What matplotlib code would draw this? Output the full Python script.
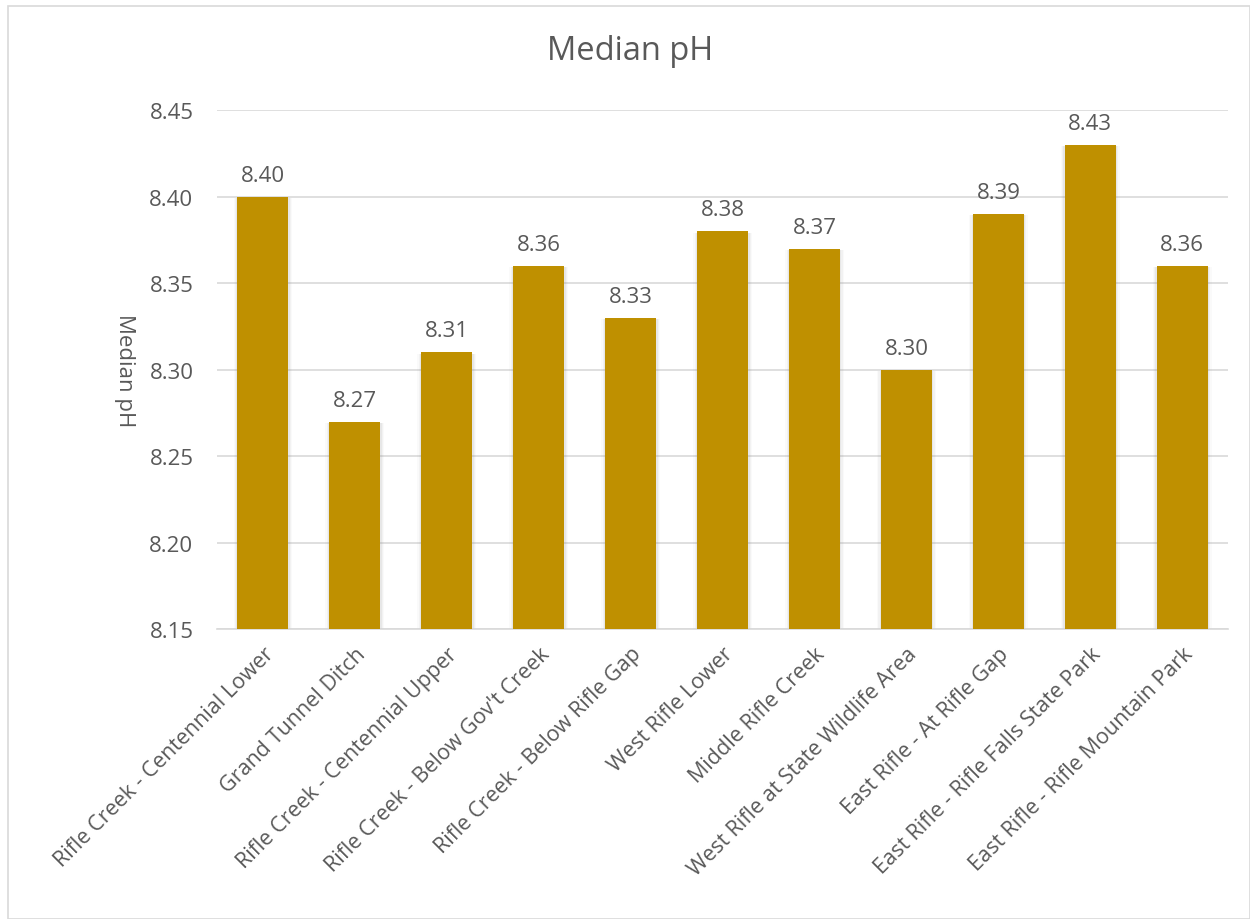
import matplotlib.pyplot as plt
from matplotlib.patches import Rectangle

plt.rcParams['font.family'] = ['Open Sans', 'DejaVu Sans']

# data
sites = [
    "Rifle Creek - Centennial Lower",
    "Grand Tunnel Ditch",
    "Rifle Creek - Centennial Upper",
    "Rifle Creek - Below Gov't Creek",
    "Rifle Creek - Below Rifle Gap",
    "West Rifle Lower",
    "Middle Rifle Creek",
    "West Rifle at State Wildlife Area",
    "East Rifle - At Rifle Gap",
    "East Rifle - Rifle Falls State Park",
    "East Rifle - Rifle Mountain Park",
]
median_ph = [8.40, 8.27, 8.31, 8.36, 8.33, 8.38, 8.37, 8.30, 8.39, 8.43, 8.36]
y_ticks = [8.15, 8.20, 8.25, 8.30, 8.35, 8.40, 8.45]

text_col = "#595959"
bar_col = "#BF9000"

fig = plt.figure(figsize=(12.5, 9.2), dpi=100)
ax = fig.add_axes([0.1736, 0.315, 0.809, 0.564])

x = list(range(len(sites)))
base = y_ticks[0]
heights = [v - base for v in median_ph]

# soft shadow around the bars
for w, a in [(0.64, 0.04), (0.61, 0.06), (0.585, 0.09)]:
    ax.bar(x, heights, bottom=base - 0.0008, width=w, color="gray", alpha=a,
           zorder=2, linewidth=0)
ax.bar(x, heights, bottom=base, width=0.555, color=bar_col, zorder=3, linewidth=0)

for i, v in enumerate(median_ph):
    ax.annotate(f"{v:.2f}", (i, v), xytext=(0, 8), textcoords="offset points",
                ha="center", va="bottom", fontsize=16, color=text_col)

ax.set_ylim(y_ticks[0], y_ticks[-1])
ax.set_xlim(-0.5, len(sites) - 0.5)
ax.set_yticks(y_ticks)
ax.set_yticklabels([f"{t:.2f}" for t in y_ticks], fontsize=16, color=text_col)
ax.set_xticks(x)
ax.set_xticklabels(sites, rotation=45, ha="right", rotation_mode="anchor",
                   fontsize=15.5, color=text_col)
ax.tick_params(axis="y", length=0, pad=17)
ax.tick_params(axis="x", length=0, pad=10)
ax.grid(axis="y", color="#D9D9D9", linewidth=1.2, zorder=0)
for s in ["top", "right", "left"]:
    ax.spines[s].set_visible(False)
ax.spines["bottom"].set_color("#D9D9D9")
ax.spines["bottom"].set_linewidth(1.2)

ax.set_ylabel("Median pH", rotation=270, fontsize=16, color=text_col, va="center")
ax.yaxis.set_label_coords(-0.091, 0.5)
fig.text(0.504, 0.944, "Median pH", fontsize=23.5, color=text_col,
         ha="center", va="center")

fig.patches.append(Rectangle((0.006, 0.0), 0.994, 0.992, transform=fig.transFigure,
                             fill=False, edgecolor="#D9D9D9", linewidth=1.2))

fig.savefig("out.png", dpi=100)
